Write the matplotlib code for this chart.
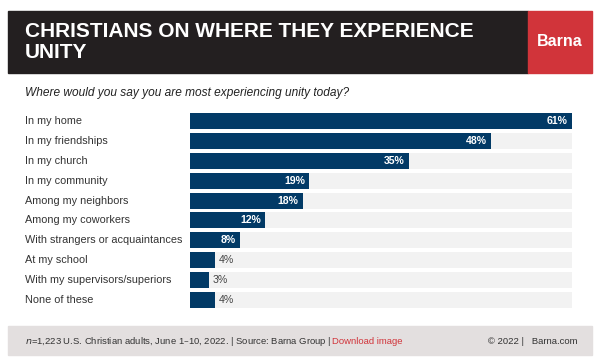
import matplotlib.pyplot as plt
import matplotlib.transforms as mtransforms
from matplotlib.patches import Rectangle

# chart data
categories = ["In my home", "In my friendships", "In my church", "In my community",
              "Among my neighbors", "Among my coworkers", "With strangers or acquaintances",
              "At my school", "With my supervisors/superiors", "None of these"]
values = [61, 48, 35, 19, 18, 12, 8, 4, 3, 4]

title = "CHRISTIANS ON WHERE THEY EXPERIENCE\nUNITY"
question = "Where would you say you are most experiencing unity today?"

NAVY = "#023a66"
TRACK = "#f2f2f2"
DARK = "#231f20"
RED = "#d1343a"
FOOT = "#e3dfdf"

plt.rcParams['font.family'] = ['Liberation Sans', 'DejaVu Sans']

W, H = 600, 363
fig = plt.figure(figsize=(W / 100, H / 100), dpi=100)


def px(x, y):
    # pixel position (from top left) to figure fraction
    return x / W, 1 - y / H


def box(x0, y0, x1, y1, color):
    fig.patches.append(Rectangle(px(x0, y1), (x1 - x0) / W, (y1 - y0) / H,
                                 transform=fig.transFigure, color=color, zorder=0))


# header
box(8, 11, 528, 73, DARK)
box(528, 11, 592, 73, RED)
fig.text(*px(25, 42), title, color="white", fontsize=15, fontweight="bold",
         va="center", ha="left", linespacing=1.15)
fig.text(*px(560, 42), "Barna", color="white", fontsize=11.5, fontweight="bold",
         va="center", ha="center")

fig.text(*px(25, 93), question, fontsize=8.6, style="italic", color="#222222", va="center")

# bars
top, bottom = 111, 310
l, b = px(190, bottom)
ax = fig.add_axes([l, b, (572 - 190) / W, (bottom - top) / H])
ypos = list(range(len(categories)))
ax.barh(ypos, [max(values)] * len(values), height=0.8, color=TRACK, zorder=1)
ax.barh(ypos, values, height=0.8, color=NAVY, zorder=2)
ax.set_xlim(0, max(values))
ax.set_ylim(len(categories) - 0.5, -0.5)
ax.axis("off")

lab_tr = mtransforms.blended_transform_factory(fig.transFigure, ax.transData)
for y, cat in zip(ypos, categories):
    ax.text(25 / W, y, cat, transform=lab_tr, fontsize=7.8, color="#333333",
            va="center", ha="left")

for y, v in zip(ypos, values):
    if v >= 8:
        ax.annotate(f"{v}%", (v, y), xytext=(-3, 0), textcoords="offset points",
                    color="white", fontsize=7.6, fontweight="bold", va="center", ha="right", zorder=3)
    else:
        ax.annotate(f"{v}%", (v, y), xytext=(3, 0), textcoords="offset points",
                    color="#444444", fontsize=7.6, va="center", ha="left", zorder=3)

# footer
box(8, 326, 592, 355, FOOT)
fy = 341
t1 = fig.text(*px(25, fy), "$n$=1,223 U.S. Christian adults, June 1\u201310, 2022. | Source: Barna Group | ",
              fontsize=6.8, color="#333333", va="center", ha="left")
fig.canvas.draw()
bb = t1.get_window_extent()
fig.text(bb.x1 / W, 1 - fy / H, "Download image", fontsize=6.8, color=RED, va="center", ha="left")
fig.text(*px(578, fy), "\u00a9 2022 |   Barna.com", fontsize=6.8, color="#333333", va="center", ha="right")

fig.savefig("out.png", dpi=100)
